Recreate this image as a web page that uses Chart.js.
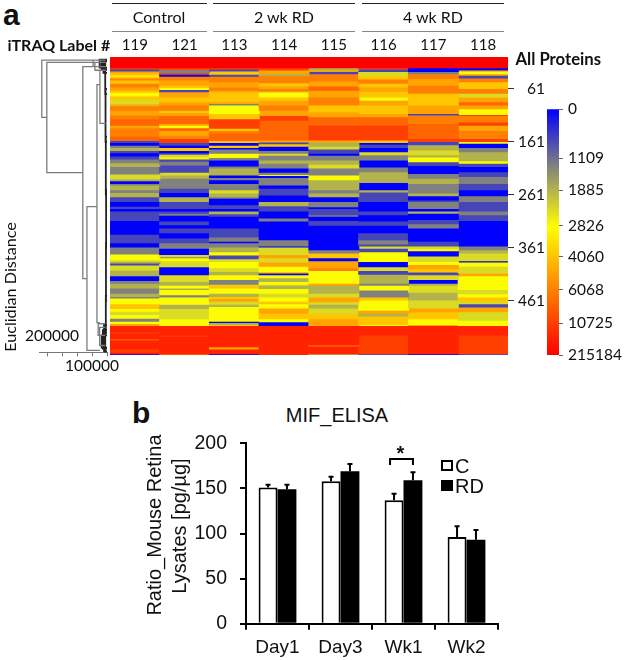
<!DOCTYPE html>
<html><head><meta charset="utf-8">
<script src="https://cdn.jsdelivr.net/npm/chart.js@4"></script>
<style>
html,body{margin:0;padding:0;background:#fff;width:625px;height:660px;overflow:hidden}
canvas{position:absolute;display:block}
.t{position:absolute;white-space:nowrap;line-height:1;color:#111;font-family:Lato,sans-serif}
.b{font-weight:700}
.s{font-family:"Liberation Sans",Arial,sans-serif}
.r{position:absolute;box-sizing:border-box}
</style></head><body>
<canvas id="heat" style="left:110px;top:30px;filter:blur(0.45px)"></canvas>
<canvas id="dend" style="left:39px;top:56.6px"></canvas>
<canvas id="cbar" style="left:547px;top:100px"></canvas>
<canvas id="bars" style="left:140px;top:435px"></canvas>

<div class="t b s" style="left:3px;top:0px;font-size:30px">a</div>
<div class="t b s" style="left:132px;top:398px;font-size:30px">b</div>

<div class="r" style="left:111.5px;top:3px;width:95px;height:29px;border-top:1px solid #222;border-bottom:1.5px solid #888"></div>
<div class="r" style="left:213px;top:3px;width:142px;height:29px;border-top:1px solid #222;border-bottom:1.5px solid #888"></div>
<div class="r" style="left:361.5px;top:3px;width:142.5px;height:29px;border-top:1px solid #222;border-bottom:1.5px solid #888"></div>
<div class="t" style="left:159px;top:8.5px;font-size:16px;transform:translateX(-50%)">Control</div>
<div class="t" style="left:284px;top:8.5px;font-size:16px;transform:translateX(-50%)">2 wk RD</div>
<div class="t" style="left:433px;top:8.5px;font-size:16px;transform:translateX(-50%)">4 wk RD</div>
<div class="t b" style="left:7.5px;top:37px;font-size:16px">iTRAQ Label #</div>
<div class="t b" style="left:515.5px;top:51px;font-size:16.7px">All Proteins</div>
<div class="t" style="left:25px;top:328px;font-size:15.5px">200000</div>
<div class="t" style="left:65px;top:358px;font-size:15.5px">100000</div>
<div class="t" style="left:10px;top:286.5px;font-size:16.2px;transform:translate(-50%,-50%) rotate(-90deg)">Euclidian Distance</div>

<div class="t s" style="left:337px;top:405px;font-size:20px;transform:translateX(-50%)">MIF_ELISA</div>
<div class="t s" style="left:154px;top:525px;font-size:20px;transform:translate(-50%,-50%) rotate(-90deg)">Ratio_Mouse Retina</div>
<div class="t s" style="left:178.5px;top:525.5px;font-size:20px;transform:translate(-50%,-50%) rotate(-90deg)">Lysates [pg/µg]</div>
<div class="r" style="left:440.5px;top:460px;width:12px;height:11px;border:2px solid #000;background:#fff"></div>
<div class="r" style="left:440.5px;top:480px;width:12px;height:11px;background:#000"></div>
<div class="t s" style="left:455px;top:456px;font-size:20px">C</div>
<div class="t s" style="left:455px;top:476px;font-size:20px">RD</div>
<div class="t s b" style="left:396.5px;top:443px;font-size:20px">*</div>

<script>
// Abundance levels
const B=0,S=700,G=1300,O=1885,K=2400,Y=2826,H=4000,A=5000,C=6068,D=8000,E=10725,F=100000,R=215184;

// Colour bar
const colorbarValues=[0,1109,1885,2826,4060,6068,10725,215184];
const colorbarRanks=[0,20,33,47.5,60,73.5,87,100];
const colorStopRanks=[0,23,48,73.5,100];
const colorStops=[[0,0,255],[128,128,128],[255,255,0],[255,128,0],[255,0,0]];

// Protein row ticks
const proteinTicks=[61,161,261,361,461];
const columnLabels=['119','121','113','114','115','116','117','118'];

// Each column: [last protein row of the band, abundance]
const c119=[[21,R],[23,E],[27,S],[30,A],[35,H],[37,Y],[40,H],[44,C],[50,H],[57,C],[63,A],[67,H],[74,Y],[80,H],[89,K],[93,A],[101,C],[110,A],[117,C],[129,D],[134,A],[144,C],[150,C],[158,D],[162,S],[167,B],[171,G],[177,O],[181,S],[187,B],[193,S],[200,G],[207,O],[221,G],[230,K],[234,O],[239,B],[242,G],[251,O],[256,G],[264,O],[273,S],[282,B],[286,S],[291,B],[304,S],[309,S],[335,B],[342,S],[351,S],[359,B],[372,G],[383,Y],[387,K],[390,G],[393,S],[402,K],[413,O],[422,B],[427,G],[431,O],[436,O],[446,G],[452,O],[455,G],[466,Y],[475,H],[480,Y],[486,K],[493,Y],[499,G],[503,Y],[507,A],[519,F],[521,E],[532,F],[534,D],[551,F],[557,E],[560,F],[563,B]];
const c121=[[21,R],[24,E],[30,G],[33,E],[37,B],[44,C],[54,A],[58,H],[62,Y],[66,S],[76,A],[85,H],[91,A],[101,C],[105,H],[111,A],[126,D],[129,A],[134,Y],[139,D],[144,A],[149,A],[154,C],[162,E],[167,S],[171,B],[177,H],[181,B],[184,S],[189,K],[193,Y],[197,S],[204,G],[218,S],[223,K],[229,O],[248,G],[256,S],[264,B],[273,O],[286,S],[291,B],[295,S],[299,G],[310,B],[317,S],[323,B],[332,S],[342,B],[351,S],[361,G],[373,B],[377,K],[379,G],[385,Y],[396,K],[411,B],[424,K],[431,O],[436,Y],[439,O],[449,Y],[453,G],[467,Y],[475,O],[494,K],[507,Y],[525,F],[527,E],[560,F],[563,D]];
const c113=[[21,R],[23,E],[27,S],[33,H],[37,S],[47,C],[57,A],[63,C],[66,A],[85,H],[88,A],[91,G],[107,Y],[117,H],[135,E],[139,H],[144,C],[158,D],[162,H],[167,B],[171,H],[174,B],[182,G],[190,Y],[195,G],[206,B],[210,G],[223,O],[228,B],[232,G],[239,B],[251,G],[257,K],[264,O],[267,G],[279,B],[286,S],[291,B],[296,O],[301,S],[323,B],[340,S],[348,G],[351,B],[359,G],[368,O],[374,Y],[381,S],[386,K],[398,Y],[405,K],[411,O],[420,Y],[429,G],[431,K],[436,H],[446,Y],[452,O],[456,H],[461,A],[467,K],[471,O],[499,Y],[501,B],[505,O],[507,H],[547,F],[551,A],[560,F],[563,B]];
const c114=[[21,R],[25,E],[32,A],[36,O],[49,C],[55,H],[60,A],[65,C],[67,K],[76,Y],[82,H],[91,A],[101,C],[111,A],[120,E],[144,D],[157,D],[161,A],[164,S],[169,H],[177,B],[182,G],[186,K],[195,G],[201,O],[210,G],[218,B],[222,G],[224,Y],[228,B],[242,G],[248,B],[261,S],[273,B],[281,O],[291,S],[304,B],[310,G],[345,B],[357,G],[359,B],[373,K],[379,A],[387,K],[395,A],[405,Y],[408,H],[411,B],[417,Y],[424,O],[429,Y],[431,K],[437,O],[446,Y],[453,K],[461,Y],[466,H],[474,Y],[484,A],[494,H],[500,Y],[507,B],[563,F]];
const c115=[[21,R],[25,O],[28,A],[32,S],[46,C],[55,A],[63,D],[76,A],[91,C],[104,H],[113,A],[129,D],[144,E],[157,E],[161,A],[169,O],[174,K],[182,S],[186,B],[195,G],[203,O],[210,K],[223,G],[232,Y],[251,O],[257,G],[264,O],[273,B],[283,G],[286,B],[291,S],[298,S],[301,G],[309,B],[318,S],[364,B],[370,G],[379,H],[385,B],[398,A],[403,C],[427,Y],[431,A],[446,O],[453,K],[462,A],[467,K],[474,O],[484,K],[494,H],[507,A],[543,F],[546,D],[560,F],[563,O]];
const c116=[[21,R],[23,E],[28,S],[36,K],[42,H],[50,C],[57,H],[65,A],[76,H],[82,Y],[91,A],[107,H],[113,A],[129,D],[144,E],[157,E],[162,H],[165,B],[171,S],[179,B],[185,K],[195,G],[208,B],[217,G],[237,O],[251,B],[255,O],[273,S],[291,B],[298,S],[310,B],[318,S],[332,B],[345,S],[353,G],[357,S],[361,K],[368,S],[386,Y],[396,B],[403,K],[410,S],[427,O],[431,G],[440,Y],[453,G],[459,H],[478,Y],[484,A],[489,O],[505,H],[507,Y],[525,F],[560,E],[563,S]];
const c117=[[21,R],[28,B],[32,G],[41,C],[54,A],[69,C],[91,H],[107,A],[110,S],[126,C],[144,D],[154,D],[160,E],[166,S],[176,O],[185,K],[189,O],[198,Y],[205,S],[220,B],[229,G],[239,O],[257,G],[262,O],[270,B],[273,S],[286,G],[291,B],[295,O],[307,B],[315,S],[323,G],[348,B],[357,S],[362,K],[366,Y],[376,B],[386,K],[392,Y],[400,A],[406,H],[411,S],[420,K],[427,B],[431,O],[444,K],[459,O],[474,K],[481,A],[494,H],[505,Y],[507,A],[560,F],[563,B]];
const c118=[[21,R],[25,B],[28,H],[32,Y],[35,A],[40,S],[47,C],[60,H],[69,C],[76,K],[85,A],[91,D],[98,A],[109,Y],[111,E],[123,C],[129,E],[139,A],[154,C],[160,E],[163,Y],[171,B],[179,G],[196,O],[201,Y],[207,S],[217,B],[226,S],[239,G],[251,S],[262,B],[273,G],[291,S],[298,G],[309,S],[357,B],[364,G],[370,O],[385,K],[387,B],[395,Y],[408,K],[413,A],[439,Y],[447,K],[453,Y],[461,H],[466,K],[472,S],[481,A],[497,K],[507,Y],[525,F],[560,E],[563,S]];
const heatColumns=[c119,c121,c113,c114,c115,c116,c117,c118];

// Dendrogram merges: height, first row, last row, height each branch drops to
const dendroHeight=[221000,204000,82000,68000,34000,24000,41000,47000,30000,25000];
const dendroTop=[6,10,18,282,52,25,10,6,503,510];
const dendroBottom=[114,218,418,553,501,125,25,18,525,544];
const dendroTopEnd=[24000,41000,41000,34000,24000,5000,4000,5000,6000,6000];
const dendroBottomEnd=[204000,82000,68000,24000,24000,4000,4000,4000,6000,6000];
const spineHeight=[6000,5000,4000,3000,3500,4000,6000,12000,18000,25000,10000,14000,18000];
const spineTop=[5,60,150,250,350,450,520,5,8,5,505,515,525];
const spineBottom=[70,160,260,360,460,520,557,30,24,20,555,550,548];
const distanceTicks=[0,50000,100000,150000,200000];

// MIF ELISA
const days=['Day1','Day3','Wk1','Wk2'];
const controlMean=[151,158,137,96];
const controlErr=[154,163,144,108];
const rdMean=[149,169,159,93];
const rdErr=[154,177,168,104];
const bracketValue=182.5, bracketFoot=176;

Chart.defaults.animation=false;
Chart.defaults.responsive=false;
Chart.defaults.devicePixelRatio=1;
Chart.defaults.plugins.legend.display=false;
Chart.defaults.plugins.tooltip.enabled=false;

function noPad(s){s.paddingLeft=s.paddingRight=s.paddingTop=s.paddingBottom=0;}
function rankOf(v){
  for(let i=1;i<colorbarValues.length;i++){
    if(v<=colorbarValues[i]){
      const f=(v-colorbarValues[i-1])/(colorbarValues[i]-colorbarValues[i-1]);
      return colorbarRanks[i-1]+f*(colorbarRanks[i]-colorbarRanks[i-1]);
    }
  }
  return 100;
}
function colorOfRank(r){
  for(let i=1;i<colorStopRanks.length;i++){
    if(r<=colorStopRanks[i]){
      const f=(r-colorStopRanks[i-1])/(colorStopRanks[i]-colorStopRanks[i-1]);
      const a=colorStops[i-1],b=colorStops[i];
      return 'rgb('+a.map((c,k)=>Math.round(c+f*(b[k]-c))).join(',')+')';
    }
  }
  return 'rgb(255,0,0)';
}
function size(id,w,h){const c=document.getElementById(id);c.width=w;c.height=h;c.style.width=w+'px';c.style.height=h+'px';return c;}

// Heat map
const maxBands=Math.max(...heatColumns.map(c=>c.length));
const heatSets=[];
for(let i=0;i<maxBands;i++){
  heatSets.push({
    data:heatColumns.map(c=>c[i]?[i?c[i-1][0]:1,Math.min(c[i][0]+0.8,563)]:null),
    backgroundColor:heatColumns.map(c=>c[i]?colorOfRank(rankOf(c[i][1])):'transparent'),
    borderWidth:0,grouped:false,barPercentage:1,categoryPercentage:1,barThickness:50.2
  });
}
new Chart(size('heat',435,325),{
  type:'bar',
  data:{labels:columnLabels,datasets:heatSets},
  options:{
    layout:{padding:0},
    scales:{
      x:{position:'top',grid:{display:false},border:{display:false},
        ticks:{color:'#111',font:{family:'Lato',size:15},padding:-5,maxRotation:0},
        afterFit(s){noPad(s);s.height=27;}},
      y:{position:'right',reverse:true,min:1,max:563,
        grid:{drawOnChartArea:false,drawTicks:true,tickLength:6,color:'#333'},border:{display:false},
        afterBuildTicks(a){a.ticks=proteinTicks.map(v=>({value:v}));},
        ticks:{color:'#111',font:{family:'Lato',size:15.5},padding:2,crossAlign:'far',autoSkip:false},
        afterFit(s){noPad(s);s.width=37;}}
    }
  }
});

// Dendrogram
function brackets(h,t,b,te,be){
  const pts=[];
  h.forEach((d,i)=>{
    pts.push({x:te?te[i]:0,y:t[i]},{x:d,y:t[i]},{x:d,y:b[i]},{x:be?be[i]:0,y:b[i]},{x:NaN,y:NaN});
  });
  return pts;
}
new Chart(size('dend',70,306),{
  type:'scatter',
  data:{datasets:[
    {data:brackets(dendroHeight,dendroTop,dendroBottom,dendroTopEnd,dendroBottomEnd),showLine:true,borderColor:'#7c7c7c',borderWidth:1.3,pointRadius:0,spanGaps:false},
    {data:brackets(spineHeight,spineTop,spineBottom),showLine:true,borderColor:'#222',borderWidth:1.8,pointRadius:0,spanGaps:false}
  ]},
  options:{
    layout:{padding:{right:2,top:0,bottom:0,left:0}},
    scales:{
      x:{type:'linear',reverse:true,min:0,max:230500,
        grid:{drawOnChartArea:false,drawTicks:true,tickLength:4,color:'#777'},border:{display:true,color:'#777'},
        afterBuildTicks(a){a.ticks=distanceTicks.map(v=>({value:v}));},
        ticks:{display:false},afterFit(s){noPad(s);s.height=10.6;}},
      y:{display:false,reverse:true,min:0,max:557}
    }
  }
});

// Colour bar
new Chart(size('cbar',78,266),{
  type:'bar',
  data:{labels:['abundance'],datasets:[{
    data:[[0,100]],barPercentage:1,categoryPercentage:1,borderWidth:0,
    backgroundColor(ctx){
      const ch=ctx.chart;if(!ch.chartArea)return 'transparent';
      const s=ch.scales.y;
      const g=ch.ctx.createLinearGradient(0,s.getPixelForValue(0),0,s.getPixelForValue(100));
      colorStopRanks.forEach((r,i)=>g.addColorStop(r/100,'rgb('+colorStops[i].join(',')+')'));
      return g;
    }}]},
  options:{
    layout:{padding:{top:9,bottom:11,left:0,right:0}},
    scales:{
      x:{display:false},
      y:{position:'right',reverse:true,min:0,max:100,
        grid:{drawOnChartArea:false,drawTicks:true,tickLength:4,color:'#666'},border:{display:false},
        afterBuildTicks(a){a.ticks=colorbarRanks.map(v=>({value:v}));},
        ticks:{color:'#111',font:{family:'Lato',size:15.5},padding:5,autoSkip:false,
          callback(v){return String(colorbarValues[colorbarRanks.indexOf(v)]);}},
        afterFit(s){noPad(s);s.width=66;}}
    }
  }
});

// Bars with error bars
const errorBars={
  id:'errorBars',
  afterDatasetsDraw(ch){
    const c=ch.ctx,y=ch.scales.y;
    c.save();c.strokeStyle='#000';c.lineWidth=2;
    [controlErr,rdErr].forEach((errs,d)=>{
      const els=ch.getDatasetMeta(d).data;
      errs.forEach((e,i)=>{
        const x=els[i].x,p=y.getPixelForValue(e),base=els[i].y;
        c.beginPath();c.moveTo(x,base);c.lineTo(x,p);c.moveTo(x-2.5,p);c.lineTo(x+2.5,p);c.stroke();
      });
    });
    const l=ch.getDatasetMeta(0).data[2].x-4,r=ch.getDatasetMeta(1).data[2].x;
    const top=y.getPixelForValue(bracketValue),foot=y.getPixelForValue(bracketFoot);
    c.beginPath();c.moveTo(l,foot);c.lineTo(l,top);c.lineTo(r,top);c.lineTo(r,foot);c.stroke();
    c.restore();
  }
};
new Chart(size('bars',368,225),{
  type:'bar',
  data:{labels:days,datasets:[
    {label:'C',data:controlMean,backgroundColor:'#fff',borderColor:'#000',borderWidth:2,barPercentage:1,categoryPercentage:0.6},
    {label:'RD',data:rdMean,backgroundColor:'#000',borderColor:'#000',borderWidth:0,barPercentage:1,categoryPercentage:0.6}
  ]},
  plugins:[errorBars],
  options:{
    layout:{padding:{top:8.3,right:10,bottom:0,left:3}},
    scales:{
      x:{grid:{drawOnChartArea:false,drawTicks:true,tickLength:6,color:'#000',lineWidth:2,offset:true},border:{color:'#000',width:2},
        ticks:{color:'#111',font:{family:'Liberation Sans',size:19},padding:7,maxRotation:0},
        afterFit(s){noPad(s);s.height=36.3;}},
      y:{min:0,max:200,
        grid:{drawOnChartArea:false,drawTicks:true,tickLength:6,color:'#000',lineWidth:2},border:{color:'#000',width:2},
        ticks:{stepSize:50,color:'#111',font:{family:'Liberation Sans',size:19.5},padding:13},
        afterFit(s){noPad(s);s.width=103;}}
    }
  }
});
</script>
</body></html>
